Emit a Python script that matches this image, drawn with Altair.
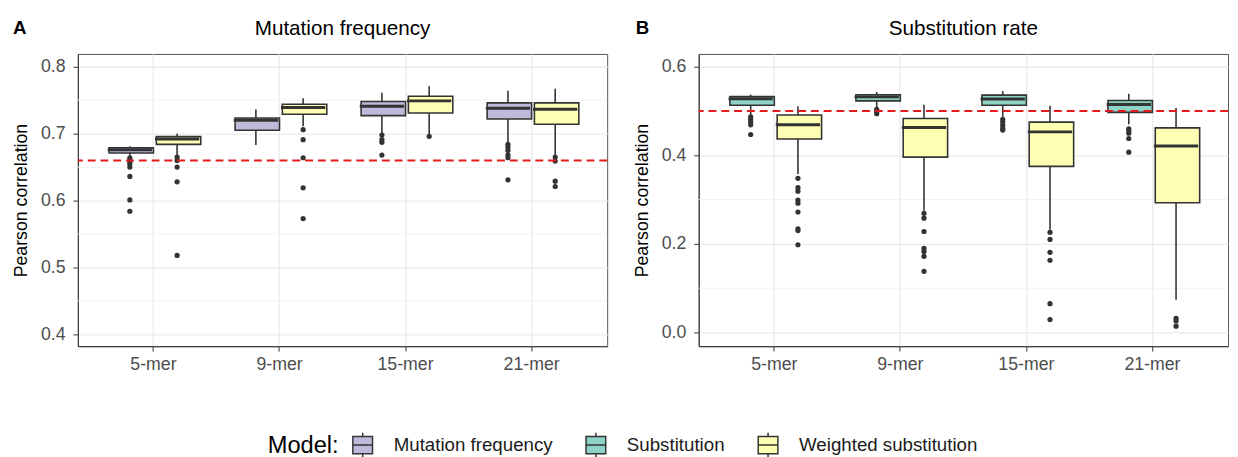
import altair as alt
import pandas as pd

KMERS = ["5-mer", "9-mer", "15-mer", "21-mer"]
MODELS = ["Mutation frequency", "Substitution", "Weighted substitution"]
MODEL_COLORS = ["#BEBADA", "#8DD3C7", "#FFFFB3"]

# ---------------- Panel A: Mutation frequency ----------------
A_MODELS = ["Mutation frequency", "Weighted substitution"]
A_MF_LOWER = [0.667, 0.683, 0.700, 0.687]
A_MF_Q1 = [0.671, 0.705, 0.727, 0.722]
A_MF_MED = [0.676, 0.720, 0.741, 0.738]
A_MF_Q3 = [0.679, 0.7235, 0.748, 0.746]
A_MF_UPPER = [0.681, 0.736, 0.761, 0.764]
A_MF_OUT = [[0.664, 0.661, 0.658, 0.655, 0.650, 0.636, 0.601, 0.584],
            [],
            [0.698, 0.691, 0.687, 0.668],
            [0.684, 0.680, 0.675, 0.668, 0.664, 0.631]]
A_WS_LOWER = [0.666, 0.711, 0.697, 0.666]
A_WS_Q1 = [0.684, 0.729, 0.731, 0.714]
A_WS_MED = [0.692, 0.739, 0.749, 0.7365]
A_WS_Q3 = [0.6956, 0.744, 0.756, 0.746]
A_WS_UPPER = [0.700, 0.753, 0.771, 0.767]
A_WS_OUT = [[0.665, 0.660, 0.650, 0.628, 0.518],
            [0.706, 0.691, 0.664, 0.619, 0.573],
            [0.696],
            [0.665, 0.659, 0.629, 0.621]]
A_REF = 0.66
A_TICKS = [0.4, 0.5, 0.6, 0.7, 0.8]
A_MINOR = [0.45, 0.55, 0.65, 0.75]
A_DOMAIN = [0.3823, 0.8191]

# ---------------- Panel B: Substitution rate ----------------
B_MODELS = ["Substitution", "Weighted substitution"]
B_SUB_LOWER = [0.490, 0.507, 0.487, 0.470]
B_SUB_Q1 = [0.513, 0.523, 0.513, 0.497]
B_SUB_MED = [0.528, 0.532, 0.527, 0.515]
B_SUB_Q3 = [0.533, 0.537, 0.536, 0.524]
B_SUB_UPPER = [0.537, 0.543, 0.545, 0.539]
B_SUB_OUT = [[0.487, 0.481, 0.475, 0.469, 0.447],
             [0.504, 0.499, 0.494],
             [0.481, 0.475, 0.468, 0.461, 0.457],
             [0.460, 0.456, 0.450, 0.438, 0.407]]
B_WS_LOWER = [0.358, 0.275, 0.232, 0.074]
B_WS_Q1 = [0.437, 0.396, 0.375, 0.293]
B_WS_MED = [0.469, 0.463, 0.453, 0.421]
B_WS_Q3 = [0.491, 0.483, 0.475, 0.462]
B_WS_UPPER = [0.511, 0.514, 0.512, 0.507]
B_WS_OUT = [[0.348, 0.327, 0.319, 0.299, 0.292, 0.272, 0.234, 0.230, 0.198],
            [0.269, 0.258, 0.228, 0.190, 0.183, 0.172, 0.138],
            [0.226, 0.210, 0.181, 0.163, 0.065, 0.029],
            [0.032, 0.026, 0.014]]
B_REF = 0.5
B_TICKS = [0.0, 0.2, 0.4, 0.6]
B_MINOR = [0.1, 0.3, 0.5]
B_DOMAIN = [-0.0311, 0.6289]

FONT = "Liberation Sans"
DARK = "#333333"
SYMBOL = "M-0.8,-0.7H0.8V0.7H-0.8Z M-0.8,0H0.8 M0,-0.7V-1 M0,0.7V1"


def make_legend():
    return alt.Legend(
        title="Model:", orient="none", legendX=193, legendY=384,
        direction="horizontal", titleOrient="left",
        titleFontSize=24, titleFontWeight="normal", titleColor="#000000", titleFont=FONT,
        titleBaseline="middle",
        labelFontSize=19, labelColor="#1a1a1a", labelFont=FONT, labelLimit=0,
        symbolSize=625, symbolType=SYMBOL, symbolStrokeColor=DARK, symbolStrokeWidth=1.5,
        columnPadding=30, labelOffset=18, titlePadding=10,
    )


def build_panel(models_pair, stats, outs, ref, ydom, yticks, yminor, title, letter,
                letter_x, width, height=297):
    rows, prow = [], []
    for m, st, out in zip(models_pair, stats, outs):
        lo, q1, md, q3, up = st
        for i, k in enumerate(KMERS):
            rows.append(dict(kmer=k, model=m, lower=lo[i], q1=q1[i], med=md[i], q3=q3[i], upper=up[i]))
            for v in out[i]:
                prow.append(dict(kmer=k, model=m, v=v))
    box = pd.DataFrame(rows)
    pts = pd.DataFrame(prow)

    xaxis = alt.Axis(title=None, labelAngle=0, grid=True, bandPosition=0.5, labelPadding=5,
                     labelFontSize=18, labelColor="#4D4D4D", tickSize=5)
    x = alt.X("kmer:N", sort=KMERS,
              scale=alt.Scale(domain=KMERS, paddingInner=0.25, paddingOuter=0.225), axis=xaxis)
    xo = alt.XOffset("model:N", sort=models_pair,
                     scale=alt.Scale(domain=models_pair, paddingInner=0, paddingOuter=0))
    ysc = alt.Scale(domain=ydom, nice=False, zero=False)
    yax = alt.Axis(values=yticks, format=".1f", title="Pearson correlation", grid=True,
                   titlePadding=10, labelPadding=8, tickSize=5)

    minor = alt.Chart(pd.DataFrame({"v": yminor})).mark_rule(
        color="#F2F2F2", strokeWidth=1).encode(y=alt.Y("v:Q", scale=ysc, axis=yax))
    whisk = alt.Chart(box).mark_rule(color=DARK, strokeWidth=1.6).encode(
        x=x, xOffset=xo, y=alt.Y("lower:Q", scale=ysc, axis=yax), y2="upper:Q")
    boxes = alt.Chart(box).mark_bar(stroke=DARK, strokeWidth=1.6,
                                    width=alt.RelativeBandSize(0.94)).encode(
        x=x, xOffset=xo, y=alt.Y("q1:Q", scale=ysc, axis=yax), y2="q3:Q",
        fill=alt.Fill("model:N", scale=alt.Scale(domain=MODELS, range=MODEL_COLORS),
                      legend=make_legend()))
    med = alt.Chart(box).mark_tick(color=DARK, thickness=3, size=45, opacity=1).encode(
        x=x, xOffset=xo, y=alt.Y("med:Q", scale=ysc, axis=yax))
    outl = alt.Chart(pts).mark_circle(size=28, color=DARK, opacity=1).encode(
        x=x, xOffset=xo, y=alt.Y("v:Q", scale=ysc, axis=yax))
    refl = alt.Chart(pd.DataFrame({"r": [ref]})).mark_rule(
        color="#E41A1C", strokeDash=[8, 5], strokeWidth=2).encode(
        y=alt.Y("r:Q", scale=ysc, axis=yax))
    ttl = alt.Chart(pd.DataFrame({"t": [title]})).mark_text(
        font=FONT, fontSize=21, color="#000000", align="center", baseline="alphabetic").encode(
        text="t:N", x=alt.value(width / 2), y=alt.value(-19))
    let = alt.Chart(pd.DataFrame({"t": [letter]})).mark_text(
        font=FONT, fontSize=19, fontWeight="bold", color="#000000", align="left",
        baseline="alphabetic").encode(text="t:N", x=alt.value(letter_x), y=alt.value(-20))

    return alt.layer(minor, whisk, boxes, med, outl, refl, ttl, let).properties(
        width=width, height=height)


panel_a = build_panel(
    A_MODELS,
    [(A_MF_LOWER, A_MF_Q1, A_MF_MED, A_MF_Q3, A_MF_UPPER),
     (A_WS_LOWER, A_WS_Q1, A_WS_MED, A_WS_Q3, A_WS_UPPER)],
    [A_MF_OUT, A_WS_OUT], A_REF, A_DOMAIN, A_TICKS, A_MINOR,
    "Mutation frequency", "A", -66, 538)

panel_b = build_panel(
    B_MODELS,
    [(B_SUB_LOWER, B_SUB_Q1, B_SUB_MED, B_SUB_Q3, B_SUB_UPPER),
     (B_WS_LOWER, B_WS_Q1, B_WS_MED, B_WS_Q3, B_WS_UPPER)],
    [B_SUB_OUT, B_WS_OUT], B_REF, B_DOMAIN, B_TICKS, B_MINOR,
    "Substitution rate", "B", -64, 538)

chart = alt.hconcat(panel_a, panel_b, spacing=24).resolve_scale(
    x="independent", y="independent", xOffset="independent", fill="shared"
).properties(
    padding={"left": 4, "top": 6, "right": 0, "bottom": 0}
).configure(font=FONT).configure_view(
    stroke="#555555", strokeWidth=1
).configure_axis(
    labelFont=FONT, labelFontSize=18, labelColor="#4D4D4D",
    titleFont=FONT, titleFontSize=18, titleFontWeight="normal", titleColor="#000000",
    tickColor=DARK, domainColor=DARK, domainWidth=1, gridColor="#EBEBEB", gridWidth=1.3,
)

chart.save("out.html", embed_options={"renderer": "svg", "actions": False})
